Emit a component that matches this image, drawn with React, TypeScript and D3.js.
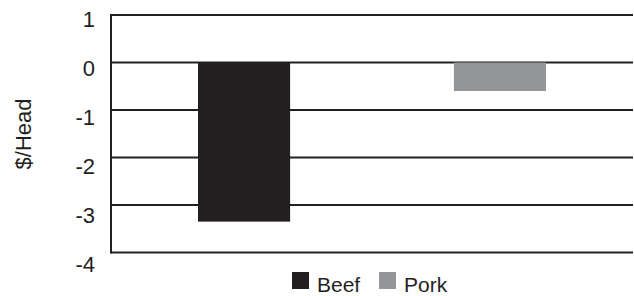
import React, { useEffect, useRef } from 'react';
import * as d3 from 'd3';

const categories = ['Beef', 'Pork'];
const values = [-3.35, -0.6];
const colors = ['#231f20', '#939598'];
const yTicks = [1, 0, -1, -2, -3, -4];

const App: React.FC = () => {
    const ref = useRef<SVGSVGElement>(null);

    useEffect(() => {
        const svg = d3.select(ref.current);
        svg.selectAll('*').remove();

        const left = 111, right = 633, top = 15, bottom = 252.5;
        const font = 'Liberation Sans, Arial, Helvetica, sans-serif';

        const y = d3.scaleLinear().domain([1, -4]).range([top, bottom]);
        // the labels in the original sit on a slightly wider spacing than the grid
        const yLabel = d3.scaleLinear().domain([1, -4]).range([19, 264]);
        const x = d3.scaleBand().domain(categories).range([left, right]).paddingInner(0.64).paddingOuter(0.34);

        // grid lines
        svg.append('g')
            .selectAll('line')
            .data(yTicks)
            .enter().append('line')
            .attr('x1', left)
            .attr('x2', right)
            .attr('y1', d => y(d))
            .attr('y2', d => y(d))
            .attr('stroke', '#231f20')
            .attr('stroke-width', 2);

        // bars
        svg.append('g')
            .selectAll('rect')
            .data(categories)
            .enter().append('rect')
            // @ts-ignore
            .attr('x', d => x(d))
            .attr('y', y(0))
            .attr('width', x.bandwidth())
            .attr('height', (d, i) => y(values[i]) - y(0))
            .attr('fill', (d, i) => colors[i]);

        // left axis line
        svg.append('line')
            .attr('x1', left).attr('x2', left)
            .attr('y1', top - 1).attr('y2', bottom + 1)
            .attr('stroke', '#231f20')
            .attr('stroke-width', 2);

        // tick labels
        svg.append('g')
            .selectAll('text')
            .data(yTicks)
            .enter().append('text')
            .attr('x', 95)
            .attr('y', d => yLabel(d))
            .attr('dy', '0.36em')
            .attr('text-anchor', 'end')
            .attr('font-family', font)
            .attr('font-size', 22)
            .attr('fill', '#231f20')
            .text(d => d);

        // y axis title
        svg.append('text')
            .attr('transform', `translate(31,${134}) rotate(-90)`)
            .attr('text-anchor', 'middle')
            .attr('font-family', font)
            .attr('font-size', 22)
            .attr('fill', '#231f20')
            .text('$/Head');

        // legend
        const legendX = [292, 379];
        const legend = svg.append('g');
        categories.forEach((c, i) => {
            legend.append('rect')
                .attr('x', legendX[i])
                .attr('y', 272)
                .attr('width', 17)
                .attr('height', 17)
                .attr('fill', colors[i]);
            legend.append('text')
                .attr('x', legendX[i] + 25)
                .attr('y', 292)
                .attr('font-family', font)
                .attr('font-size', 21)
                .attr('fill', '#231f20')
                .text(c);
        });
    }, []);

    return <svg ref={ref} width="634" height="296" style={{ position: 'absolute', left: 0, top: 0 }}></svg>;
};

export default App;
